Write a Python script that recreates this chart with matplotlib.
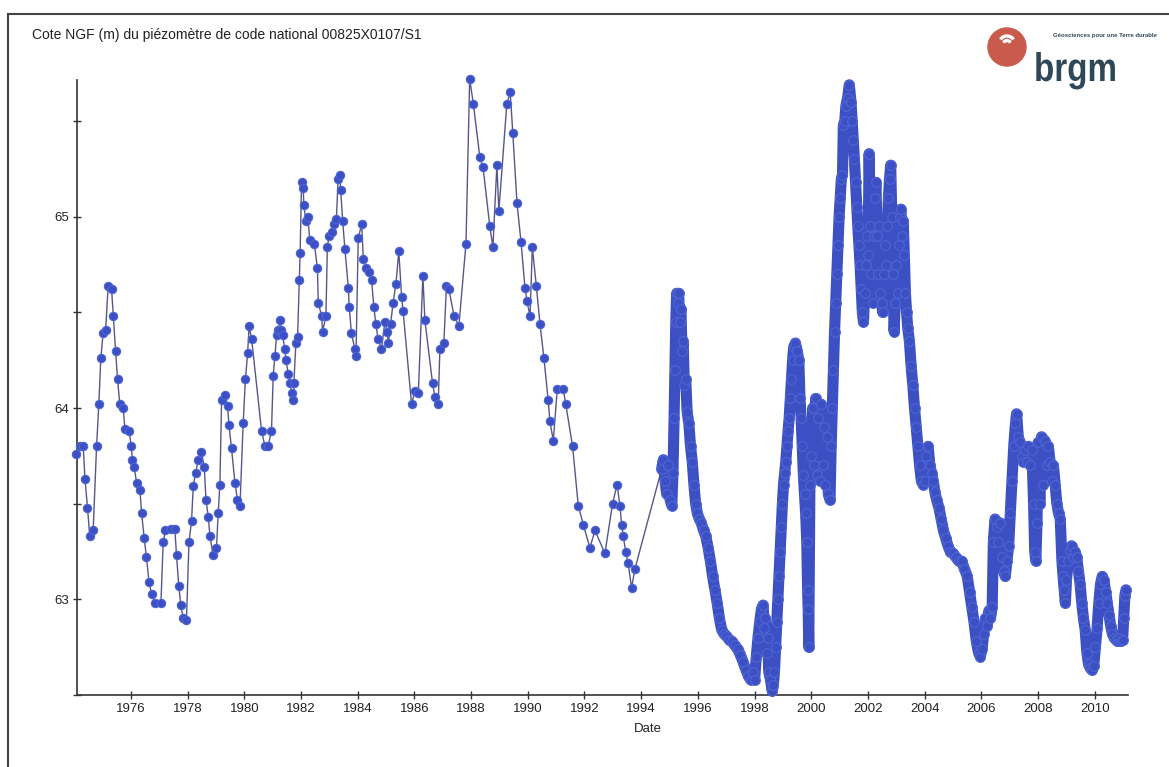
import numpy as np
import matplotlib
matplotlib.use("Agg")
import matplotlib.pyplot as plt
from matplotlib.patches import Circle, Arc, PathPatch
from matplotlib.lines import Line2D
from matplotlib.textpath import TextPath
from matplotlib.font_manager import FontProperties
from matplotlib.transforms import Affine2D

plt.rcParams['font.family'] = ['Liberation Sans', 'DejaVu Sans']

# manual readings, 1974 - 1994 (decimal year, level in m NGF)
years_manual = [
    1974.08, 1974.20, 1974.32, 1974.38, 1974.47, 1974.55, 1974.67, 1974.79, 1974.87, 1974.94,
    1975.02, 1975.11, 1975.20, 1975.32, 1975.38, 1975.46, 1975.53, 1975.61, 1975.73, 1975.79,
    1975.93, 1976.02, 1976.05, 1976.12, 1976.20, 1976.32, 1976.38, 1976.47, 1976.55, 1976.64,
    1976.73, 1976.85, 1977.06, 1977.14, 1977.22, 1977.43, 1977.55, 1977.61, 1977.69, 1977.76,
    1977.85, 1977.96, 1978.05, 1978.14, 1978.20, 1978.28, 1978.38, 1978.49, 1978.59, 1978.65,
    1978.73, 1978.79, 1978.90, 1979.02, 1979.08, 1979.14, 1979.20, 1979.32, 1979.41, 1979.46,
    1979.55, 1979.67, 1979.76, 1979.85, 1979.96, 1980.04, 1980.12, 1980.17, 1980.26, 1980.61,
    1980.73, 1980.84, 1980.96, 1981.02, 1981.08, 1981.14, 1981.20, 1981.26, 1981.31, 1981.35,
    1981.43, 1981.47, 1981.55, 1981.61, 1981.67, 1981.73, 1981.75, 1981.82, 1981.88, 1981.94,
    1981.97, 1982.02, 1982.08, 1982.10, 1982.17, 1982.24, 1982.31, 1982.47, 1982.58, 1982.61,
    1982.73, 1982.76, 1982.88, 1982.93, 1982.99, 1983.08, 1983.16, 1983.25, 1983.31, 1983.37,
    1983.40, 1983.47, 1983.55, 1983.67, 1983.70, 1983.78, 1983.90, 1983.94, 1984.02, 1984.14,
    1984.20, 1984.31, 1984.41, 1984.49, 1984.57, 1984.64, 1984.72, 1984.84, 1984.96, 1985.04,
    1985.08, 1985.16, 1985.25, 1985.35, 1985.45, 1985.55, 1985.60, 1985.90, 1986.02, 1986.14,
    1986.30, 1986.37, 1986.64, 1986.72, 1986.84, 1986.90, 1987.04, 1987.13, 1987.22, 1987.40,
    1987.57, 1987.82, 1987.95, 1988.08, 1988.31, 1988.42, 1988.66, 1988.77, 1988.91, 1988.98,
    1989.26, 1989.38, 1989.47, 1989.62, 1989.76, 1989.90, 1989.97, 1990.08, 1990.16, 1990.30,
    1990.43, 1990.57, 1990.72, 1990.78, 1990.90, 1991.04, 1991.25, 1991.34, 1991.58, 1991.78,
    1991.96, 1992.19, 1992.37, 1992.72, 1992.99, 1993.15, 1993.25, 1993.31, 1993.37, 1993.45,
    1993.54, 1993.66, 1993.78,
]
level_manual = [
    63.76, 63.80, 63.80, 63.63, 63.48, 63.33, 63.36, 63.80, 64.02, 64.26,
    64.39, 64.41, 64.64, 64.62, 64.48, 64.30, 64.15, 64.02, 64.00, 63.89,
    63.88, 63.80, 63.73, 63.69, 63.61, 63.57, 63.45, 63.32, 63.22, 63.09,
    63.03, 62.98, 62.98, 63.30, 63.36, 63.37, 63.37, 63.23, 63.07, 62.97,
    62.90, 62.89, 63.30, 63.41, 63.59, 63.66, 63.73, 63.77, 63.69, 63.52,
    63.43, 63.33, 63.23, 63.27, 63.45, 63.60, 64.04, 64.07, 64.01, 63.91,
    63.79, 63.61, 63.52, 63.49, 63.92, 64.15, 64.29, 64.43, 64.36, 63.88,
    63.80, 63.80, 63.88, 64.17, 64.27, 64.38, 64.41, 64.46, 64.41, 64.38,
    64.31, 64.25, 64.18, 64.13, 64.08, 64.04, 64.13, 64.34, 64.37, 64.67,
    64.81, 65.18, 65.15, 65.06, 64.98, 65.00, 64.88, 64.86, 64.73, 64.55,
    64.48, 64.40, 64.48, 64.84, 64.90, 64.92, 64.96, 64.99, 65.20, 65.22,
    65.14, 64.98, 64.83, 64.63, 64.53, 64.39, 64.31, 64.27, 64.89, 64.96,
    64.78, 64.73, 64.71, 64.67, 64.53, 64.44, 64.36, 64.31, 64.45, 64.40,
    64.34, 64.44, 64.55, 64.65, 64.82, 64.58, 64.51, 64.02, 64.09, 64.08,
    64.69, 64.46, 64.13, 64.06, 64.02, 64.31, 64.34, 64.64, 64.62, 64.48,
    64.43, 64.86, 65.72, 65.59, 65.31, 65.26, 64.95, 64.84, 65.27, 65.03,
    65.59, 65.65, 65.44, 65.07, 64.87, 64.63, 64.56, 64.48, 64.84, 64.64,
    64.44, 64.26, 64.04, 63.93, 63.83, 64.10, 64.10, 64.02, 63.80, 63.49,
    63.39, 63.27, 63.36, 63.24, 63.50, 63.60, 63.49, 63.39, 63.33, 63.25,
    63.19, 63.06, 63.16,
]

# automatic recorder, 1994.7 - 2011
years_auto = [
    1994.72, 1994.78, 1994.84, 1994.90, 1994.96, 1995.02, 1995.08, 1995.12, 1995.16, 1995.19,
    1995.22, 1995.25, 1995.29, 1995.32, 1995.36, 1995.40, 1995.44, 1995.48, 1995.52, 1995.57,
    1995.62, 1995.68, 1995.74, 1995.80, 1995.86, 1995.92, 1995.98, 1996.05, 1996.12, 1996.20,
    1996.28, 1996.36, 1996.44, 1996.52, 1996.60, 1996.68, 1996.76, 1996.84, 1996.92, 1997.00,
    1997.10, 1997.20, 1997.30, 1997.40, 1997.50, 1997.60, 1997.70, 1997.78, 1997.86, 1997.94,
    1998.00, 1998.06, 1998.12, 1998.18, 1998.24, 1998.30, 1998.34, 1998.38, 1998.42, 1998.46,
    1998.50, 1998.56, 1998.62, 1998.66, 1998.70, 1998.74, 1998.78, 1998.82, 1998.86, 1998.90,
    1998.94, 1998.98, 1999.02, 1999.06, 1999.10, 1999.14, 1999.18, 1999.22, 1999.26, 1999.30,
    1999.34, 1999.38, 1999.44, 1999.50, 1999.56, 1999.60, 1999.64, 1999.68, 1999.72, 1999.76,
    1999.80, 1999.84, 1999.87, 1999.89, 1999.91, 1999.95, 2000.00, 2000.05, 2000.10, 2000.15,
    2000.20, 2000.25, 2000.30, 2000.35, 2000.40, 2000.45, 2000.50, 2000.55, 2000.60, 2000.66,
    2000.70, 2000.74, 2000.78, 2000.82, 2000.86, 2000.90, 2000.94, 2000.98, 2001.02, 2001.06,
    2001.10, 2001.13, 2001.18, 2001.22, 2001.28, 2001.34, 2001.40, 2001.44, 2001.48, 2001.52,
    2001.56, 2001.60, 2001.64, 2001.68, 2001.72, 2001.76, 2001.80, 2001.84, 2001.88, 2001.92,
    2001.96, 2002.00, 2002.04, 2002.08, 2002.12, 2002.16, 2002.20, 2002.24, 2002.28, 2002.32,
    2002.36, 2002.40, 2002.44, 2002.48, 2002.52, 2002.56, 2002.60, 2002.64, 2002.68, 2002.72,
    2002.76, 2002.80, 2002.84, 2002.88, 2002.92, 2002.96, 2003.00, 2003.04, 2003.08, 2003.12,
    2003.16, 2003.20, 2003.24, 2003.28, 2003.32, 2003.36, 2003.40, 2003.46, 2003.52, 2003.58,
    2003.64, 2003.70, 2003.76, 2003.82, 2003.88, 2003.94, 2004.00, 2004.06, 2004.12, 2004.18,
    2004.24, 2004.30, 2004.36, 2004.42, 2004.50, 2004.58, 2004.66, 2004.74, 2004.82, 2004.90,
    2005.00, 2005.10, 2005.20, 2005.30, 2005.40, 2005.50, 2005.58, 2005.66, 2005.74, 2005.82,
    2005.90, 2005.96, 2006.02, 2006.08, 2006.14, 2006.20, 2006.26, 2006.32, 2006.38, 2006.42,
    2006.48, 2006.54, 2006.60, 2006.66, 2006.72, 2006.78, 2006.84, 2006.90, 2006.96, 2007.02,
    2007.08, 2007.14, 2007.20, 2007.24, 2007.30, 2007.36, 2007.42, 2007.48, 2007.54, 2007.60,
    2007.66, 2007.72, 2007.78, 2007.84, 2007.88, 2007.92, 2007.96, 2008.00, 2008.06, 2008.12,
    2008.18, 2008.24, 2008.30, 2008.36, 2008.42, 2008.48, 2008.54, 2008.60, 2008.66, 2008.72,
    2008.78, 2008.84, 2008.88, 2008.92, 2008.96, 2009.00, 2009.06, 2009.12, 2009.18, 2009.24,
    2009.30, 2009.36, 2009.42, 2009.48, 2009.54, 2009.60, 2009.66, 2009.72, 2009.78, 2009.84,
    2009.90, 2009.96, 2010.02, 2010.08, 2010.14, 2010.20, 2010.26, 2010.32, 2010.38, 2010.44,
    2010.50, 2010.56, 2010.62, 2010.68, 2010.74, 2010.80, 2010.86, 2010.92, 2010.98, 2011.02,
    2011.06, 2011.10,
]
level_auto = [
    63.68, 63.73, 63.62, 63.55, 63.70, 63.52, 63.49, 63.66, 63.95, 64.20,
    64.45, 64.60, 64.55, 64.60, 64.45, 64.52, 64.30, 64.35, 64.12, 64.15,
    63.98, 63.92, 63.80, 63.72, 63.60, 63.50, 63.45, 63.42, 63.40, 63.36,
    63.33, 63.27, 63.20, 63.12, 63.05, 62.98, 62.90, 62.84, 62.82, 62.81,
    62.79, 62.78, 62.76, 62.74, 62.71, 62.67, 62.63, 62.60, 62.58, 62.62,
    62.58, 62.70, 62.80, 62.88, 62.95, 62.97, 62.85, 62.90, 62.72, 62.80,
    62.62, 62.58, 62.52, 62.55, 62.62, 62.75, 62.88, 63.00, 63.12, 63.25,
    63.38, 63.50, 63.60, 63.66, 63.72, 63.80, 63.88, 63.95, 64.05, 64.15,
    64.25, 64.32, 64.34, 64.30, 64.25, 64.05, 63.95, 63.80, 63.65, 63.55,
    63.45, 63.30, 63.05, 62.95, 62.75, 63.60, 63.75, 64.00, 63.70, 64.05,
    63.65, 63.95, 63.62, 64.02, 63.70, 63.90, 63.60, 63.85, 63.55, 63.52,
    63.80, 64.00, 64.20, 64.40, 64.55, 64.70, 64.85, 65.00, 65.10, 65.20,
    65.22, 65.48, 65.50, 65.58, 65.62, 65.69, 65.60, 65.50, 65.40, 65.30,
    65.18, 65.05, 64.95, 64.85, 64.75, 64.62, 64.50, 64.45, 64.60, 64.75,
    64.90, 64.80, 65.33, 64.95, 64.70, 64.55, 64.90, 65.10, 65.18, 64.90,
    64.70, 64.95, 64.60, 64.55, 64.50, 64.70, 64.85, 64.75, 64.95, 65.10,
    65.20, 65.27, 65.00, 64.70, 64.40, 64.55, 64.75, 64.60, 64.85, 65.00,
    65.04, 64.90, 64.98, 64.80, 64.60, 64.50, 64.42, 64.35, 64.22, 64.12,
    64.00, 63.90, 63.80, 63.70, 63.62, 63.60, 63.62, 63.75, 63.80, 63.70,
    63.66, 63.62, 63.56, 63.52, 63.48, 63.42, 63.36, 63.32, 63.28, 63.25,
    63.24, 63.22, 63.20, 63.20, 63.16, 63.12, 63.04, 62.96, 62.88, 62.78,
    62.72, 62.70, 62.74, 62.82, 62.90, 62.86, 62.94, 62.90, 62.96, 63.30,
    63.42, 63.38, 63.30, 63.40, 63.22, 63.15, 63.12, 63.20, 63.28, 63.45,
    63.62, 63.80, 63.92, 63.97, 63.85, 63.82, 63.75, 63.72, 63.78, 63.72,
    63.80, 63.70, 63.78, 63.50, 63.25, 63.20, 63.40, 63.82, 63.50, 63.85,
    63.60, 63.83, 63.70, 63.80, 63.72, 63.62, 63.70, 63.60, 63.50, 63.45,
    63.42, 63.20, 63.12, 63.05, 62.98, 63.10, 63.20, 63.26, 63.28, 63.22,
    63.25, 63.22, 63.15, 63.08, 62.98, 62.90, 62.84, 62.72, 62.66, 62.64,
    62.63, 62.65, 62.75, 62.85, 62.98, 63.08, 63.12, 63.10, 63.04, 62.98,
    62.92, 62.86, 62.82, 62.80, 62.79, 62.78, 62.80, 62.78, 62.79, 62.90,
    63.02, 63.05,
]

year_ticks = list(range(1976, 2011, 2))
level_ticks = [62.5, 63, 63.5, 64, 64.5, 65, 65.5]
level_labels = ['', '63', '', '64', '', '65', '']

W, H = 1169, 767
fig = plt.figure(figsize=(W / 100, H / 100), dpi=100)
fig.patch.set_facecolor('white')

# outer frame
fig.add_artist(Line2D([8 / W, 1], [1 - 14 / H, 1 - 14 / H], color='#444444', lw=1.5))
fig.add_artist(Line2D([8 / W, 8 / W], [0, 1 - 14 / H], color='#444444', lw=1.5))

fig.text(32 / W, 1 - 35 / H, 'Cote NGF (m) du piézomètre de code national 00825X0107/S1',
         fontsize=10, va='center', ha='left', color='#222222')

ax = fig.add_axes([77 / W, 1 - 695 / H, (1128 - 77) / W, (695 - 80) / H])

blue = '#3d50c3'
edge = '#4d66d6'
linec = '#56568c'

# manual readings: thin connecting line
ax.plot(years_manual + [years_auto[0]], level_manual + [level_auto[0]], color=linec, lw=1.0,
        marker='o', ms=6, mfc=blue, mec=edge, mew=0.8, clip_on=False, zorder=3,
        markevery=list(range(len(years_manual))))
# dense automatic record
ax.plot(years_auto, level_auto, color=blue, lw=8, solid_joinstyle='round',
        solid_capstyle='round', marker='o', ms=7, mfc=blue, mec=edge, mew=0.8,
        clip_on=False, zorder=3)

ax.set_xlim(1974.1, 2011.17)
ax.set_ylim(62.504, 65.715)
ax.set_xticks(year_ticks)
ax.set_xticklabels([str(y) for y in year_ticks])
ax.set_yticks(level_ticks)
ax.set_yticklabels(level_labels)
for s in ['top', 'right']:
    ax.spines[s].set_visible(False)
for s in ['left', 'bottom']:
    ax.spines[s].set_color('#333333')
    ax.spines[s].set_linewidth(1.2)
ax.tick_params(direction='inout', length=6, width=1, colors='#333333',
               labelsize=9.5, labelcolor='#222222', pad=3)
ax.set_xlabel('Date', fontsize=9.5, color='#222222', labelpad=4)
ax.xaxis.set_label_coords((648 - 77) / (1128 - 77), -0.045)

# brgm logo, drawn in pixel units
lax = fig.add_axes([975 / W, 1 - 100 / H, 194 / W, 80 / H])
lax.set_xlim(975, 1169)
lax.set_ylim(100, 20)
lax.axis('off')
lax.add_patch(Circle((1007, 47), 19, color='#c95a4c'))
lax.add_patch(Arc((1007, 44), 16, 16, theta1=215, theta2=325, color='white', lw=2.4))
lax.add_patch(Arc((1007, 44), 7, 7, theta1=200, theta2=340, color='white', lw=2.4))
tp = TextPath((0, 0), 'brgm', size=40, prop=FontProperties(family='Liberation Sans', weight='bold'))
# squeeze horizontally for the condensed logotype, flip for inverted y
tr = Affine2D().scale(0.83, -1.0).translate(1034, 81)
lax.add_patch(PathPatch(tr.transform_path(tp), color='#2f4858', lw=0))
lax.text(1053, 35, 'Géosciences pour une Terre durable', fontsize=4.3, color='#2f4858',
         va='center', ha='left', fontweight='bold')

fig.savefig('out.png', dpi=100)
